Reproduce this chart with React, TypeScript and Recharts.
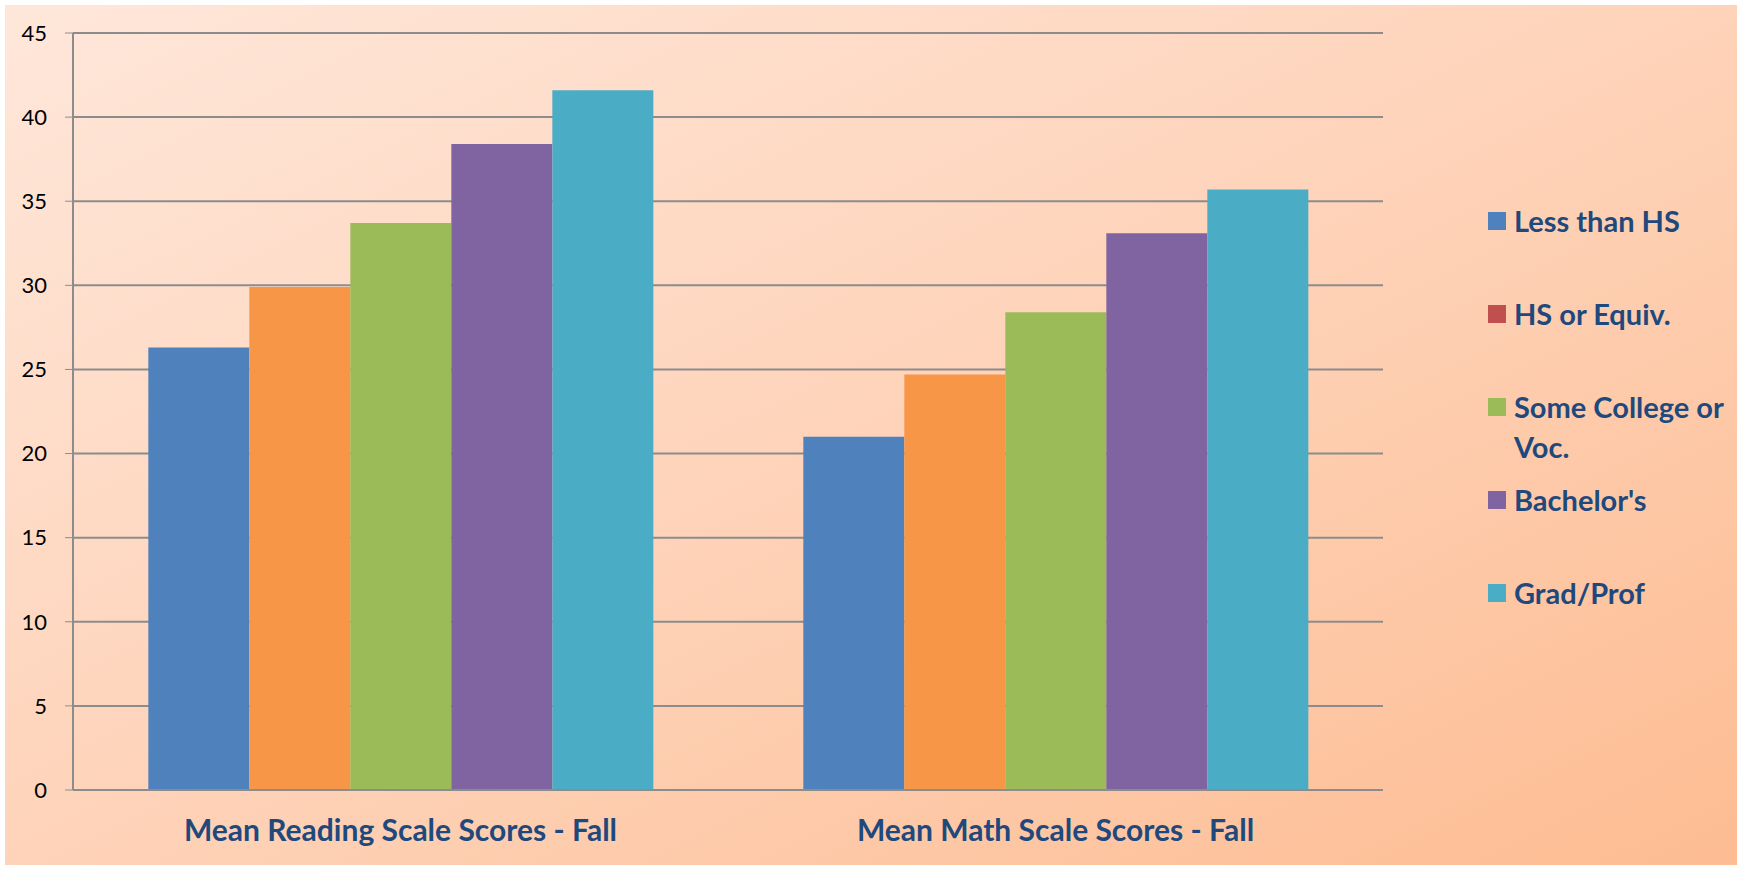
import { BarChart, Bar, XAxis, YAxis, CartesianGrid } from 'recharts';

const categories = ['Mean Reading Scale Scores - Fall', 'Mean Math Scale Scores - Fall'];
const lessThanHS = [26.3, 21.0];
const hsOrEquiv = [29.9, 24.7];
const someCollege = [33.7, 28.4];
const bachelors = [38.4, 33.1];
const gradProf = [41.6, 35.7];
const yTicks = [0, 5, 10, 15, 20, 25, 30, 35, 40, 45];

const series = [
  { key: 'lessThanHS', name: 'Less than HS', values: lessThanHS, color: '#4F81BD', legendColor: '#4F81BD' },
  { key: 'hsOrEquiv', name: 'HS or Equiv.', values: hsOrEquiv, color: '#F79646', legendColor: '#C0504D' },
  { key: 'someCollege', name: 'Some College or Voc.', values: someCollege, color: '#9BBB59', legendColor: '#9BBB59' },
  { key: 'bachelors', name: "Bachelor's", values: bachelors, color: '#8064A2', legendColor: '#8064A2' },
  { key: 'gradProf', name: 'Grad/Prof', values: gradProf, color: '#4BACC6', legendColor: '#4BACC6' },
];

const data = categories.map((name, i) => {
  const row: Record<string, string | number> = { name };
  series.forEach((s) => {
    row[s.key] = s.values[i];
  });
  return row;
});

const GRID = '#8c8c8c';
const TEXT = '#1F497D';
const FONT = 'Lato, "Open Sans", sans-serif';

// legend sits in the right-hand strip, drawn as plain html so it doesn't eat plot width
function LegendList() {
  return (
    <div
      style={{
        position: 'absolute',
        left: 1488,
        top: 201,
        fontFamily: FONT,
        fontWeight: 700,
        fontSize: 29,
        color: TEXT,
      }}
    >
      {series.map((s) => (
        <div key={s.key} style={{ display: 'flex', alignItems: 'flex-start', height: 93 }}>
          <span
            style={{
              width: 18,
              height: 18,
              marginTop: 11,
              marginRight: 8,
              flex: 'none',
              background: s.legendColor,
            }}
          />
          <span style={{ lineHeight: '40px', width: 225 }}>{s.name}</span>
        </div>
      ))}
    </div>
  );
}

export default function App() {
  return (
    <div style={{ position: 'relative', width: 1742, height: 869, background: '#fff' }}>
      <style>{'body{margin:0}'}</style>
      <div
        style={{
          position: 'absolute',
          left: 5,
          top: 5,
          width: 1732,
          height: 860,
          background: 'linear-gradient(to bottom right, #FEE7DA 0%, #FED3B9 50%, #FDBC92 100%)',
        }}
      />
      <div style={{ position: 'absolute', left: 0, top: 0 }}>
        <BarChart
          width={1742}
          height={869}
          data={data}
          margin={{ top: 33, right: 359, bottom: 0, left: 0 }}
          barCategoryGap="11.5%"
          barGap={0}
        >
          <CartesianGrid vertical={false} stroke={GRID} strokeWidth={2} />
          {/* numeric axis only used for the tick marks between categories */}
          <XAxis
            xAxisId={0}
            type="number"
            domain={[0, 2]}
            ticks={[0, 1, 2]}
            tickSize={10}
            tickFormatter={() => ''}
            axisLine={false}
            stroke={GRID}
            height={0}
          />
          <XAxis
            xAxisId={1}
            dataKey="name"
            tickLine={false}
            axisLine={{ stroke: GRID, strokeWidth: 2 }}
            tickSize={0}
            tickMargin={30}
            height={79}
            interval={0}
            tick={{ fill: TEXT, fontFamily: FONT, fontWeight: 700, fontSize: 30 }}
          />
          <YAxis
            domain={[0, 45]}
            ticks={yTicks}
            width={73}
            tickSize={8}
            tickMargin={18}
            stroke={GRID}
            axisLine={{ stroke: GRID, strokeWidth: 2 }}
            tick={{ fill: '#000', fontFamily: FONT, fontSize: 22 }}
          />
          {series.map((s) => (
            <Bar
              key={s.key}
              xAxisId={1}
              dataKey={s.key}
              name={s.name}
              fill={s.color}
              isAnimationActive={false}
            />
          ))}
        </BarChart>
      </div>
      <LegendList />
    </div>
  );
}
